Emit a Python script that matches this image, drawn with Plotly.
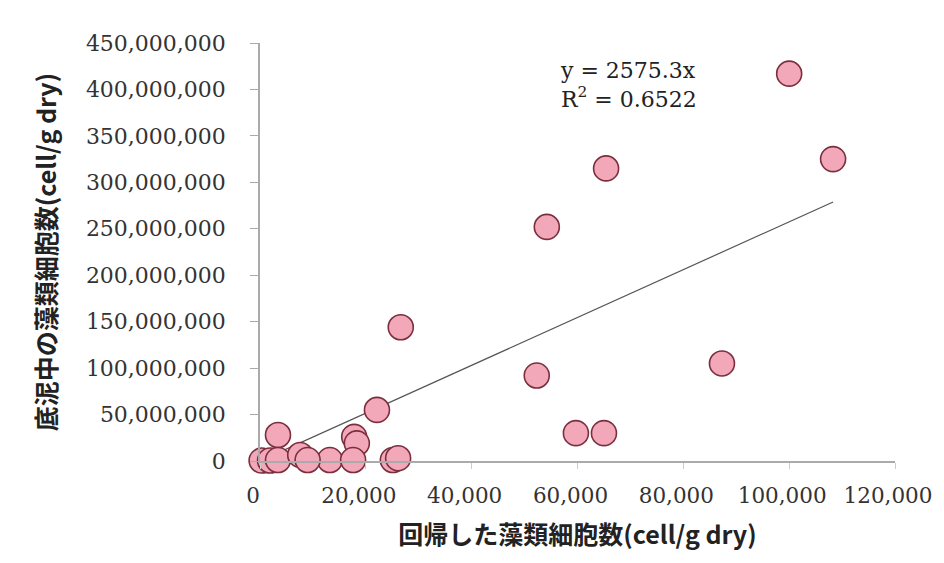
import plotly.graph_objects as go

# Data
returned_cells = [100000, 108300, 65400, 54200, 26600, 52300, 87300, 59700, 65000,
                  22100, 17800, 18300, 25100, 26100, 13200, 17600, 3400, 300,
                  1900, 3400, 7600, 9000]
sediment_cells = [417e6, 325e6, 315e6, 252e6, 144e6, 92e6, 105e6, 30e6, 30e6,
                  55e6, 26e6, 19e6, 1e6, 3e6, 1e6, 1e6, 28e6, 0.5e6,
                  0.5e6, 1e6, 6.5e6, 1e6]
trend_slope = 2575.3
r_squared = 0.6522

x_ticks = [0, 20000, 40000, 60000, 80000, 100000, 120000]
y_ticks = [0, 50e6, 100e6, 150e6, 200e6, 250e6, 300e6, 350e6, 400e6, 450e6]

x_title = "回帰した藻類細胞数(cell/g dry)"
y_title = "底泥中の藻類細胞数(cell/g dry)"

serif = "DejaVu Serif, Liberation Serif, serif"
jp = "Noto Sans CJK JP, DejaVu Serif, serif"

fig = go.Figure()

x_end = max(returned_cells)
fig.add_trace(go.Scatter(
    x=[0, x_end], y=[0, trend_slope * x_end], mode="lines",
    line=dict(color="#555555", width=1.2), hoverinfo="skip", showlegend=False,
))

fig.add_trace(go.Scatter(
    x=returned_cells, y=sediment_cells, mode="markers",
    marker=dict(size=25, color="#F2A8B8", line=dict(color="#7A2E3E", width=1.6)),
    cliponaxis=False, showlegend=False,
))

fig.add_annotation(
    x=0.47, y=0.97, xref="paper", yref="paper", xanchor="left", yanchor="top",
    text=f"y = {trend_slope}x<br>R<sup>2</sup> = {r_squared}",
    showarrow=False, align="left",
    font=dict(family=serif, size=22, color="#222222"),
)

fig.update_xaxes(
    range=[0, 120000], tickvals=x_ticks,
    ticktext=[f"{v:,}" for v in x_ticks],
    showgrid=False, zeroline=False, automargin=False,
    showline=True, linecolor="#AAAAAA", linewidth=1.5,
    ticks="outside", ticklen=6, tickcolor="#CCCCCC",
    ticklabelstandoff=8, ticklabelshift=-7,
    tickfont=dict(family=serif, size=21.5, color="#333333"),
    title=dict(text=x_title, font=dict(family=jp, size=25, color="#222222", weight="bold"), standoff=20),
)
fig.update_yaxes(
    range=[0, 450e6], tickvals=y_ticks,
    ticktext=[f"{int(v):,}" for v in y_ticks],
    showgrid=False, zeroline=False, automargin=False,
    showline=True, linecolor="#AAAAAA", linewidth=1.5,
    ticks="outside", ticklen=8, tickcolor="#AAAAAA",
    ticklabelstandoff=20,
    tickfont=dict(family=serif, size=22, color="#333333"),
    title=dict(text=y_title, font=dict(family=jp, size=25, color="#222222", weight="bold"), standoff=22),
)

# The page body adds an 8px offset, so the figure is sized to fill the rest of the window
fig.update_layout(
    width=936, height=555,
    margin=dict(l=252, r=49, t=35, b=102),
    paper_bgcolor="white", plot_bgcolor="white",
)

fig.write_html("out.html")
